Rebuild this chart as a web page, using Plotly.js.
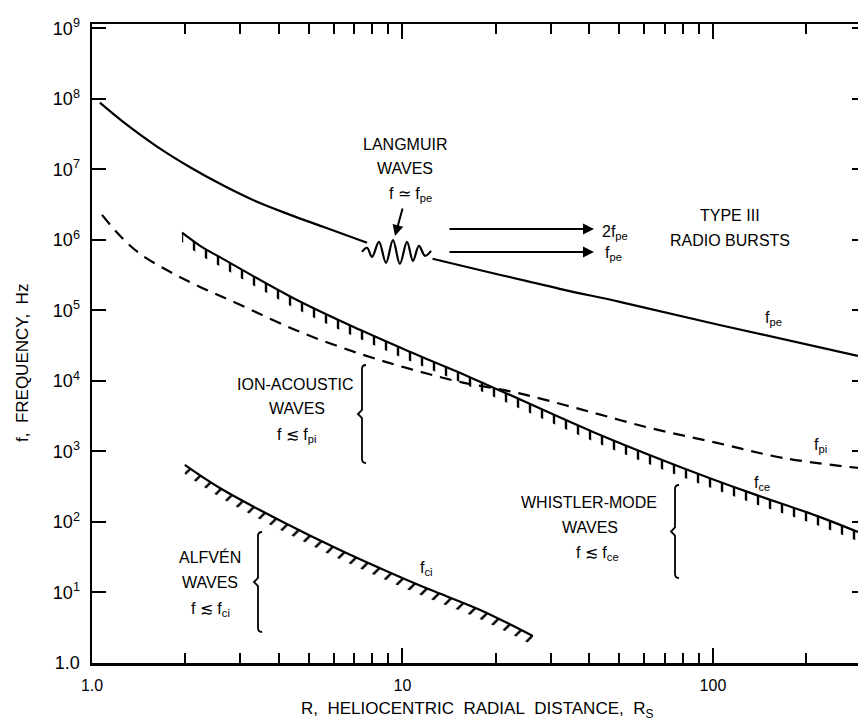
<!DOCTYPE html>
<html>
<head>
<meta charset="utf-8">
<script src="https://cdn.plot.ly/plotly-3.0.1.min.js"></script>
<style>
  html, body { margin: 0; padding: 0; background: #fff; overflow: hidden; }
  #chart { width: 866px; height: 728px; }
</style>
</head>
<body>
<div id="chart"></div>
<script>
// ---------------- data ----------------
// electron plasma frequency f_pe (solid), inner part up to the Langmuir wave sketch
const fpeInnerR = [1.06, 1.26, 1.62, 2.07, 2.64, 3.40, 4.35, 5.55, 7.69];
const fpeInnerF = [8.8e7, 4.7e7, 2.1e7, 1.07e7, 5.93e6, 3.46e6, 2.26e6, 1.53e6, 9.1e5];
// f_pe beyond the Langmuir wave sketch
const fpeOuterR = [12.5, 32.1, 50.1, 105, 293];
const fpeOuterF = [5.4e5, 2.02e5, 1.32e5, 6.2e4, 2.26e4];

// Langmuir wave packet sketch (points read along the wiggle)
const waveR = [7.41, 7.69, 7.98, 8.40, 8.85, 9.32, 9.81, 10.34, 10.81, 11.30, 11.82, 12.36];
const waveF = [6.76e5, 7.71e5, 5.74e5, 9.38e5, 4.72e5, 9.91e5, 4.57e5, 9.38e5, 5.04e5, 8.22e5, 5.93e5, 6.98e5];

// ion plasma frequency f_pi (dashed)
const fpiR = [1.077, 1.231, 1.428, 1.783, 2.228, 2.998, 4.677, 7.30, 10.57, 15.3, 23.4, 38.1, 62.7, 103, 168, 293];
const fpiF = [2.26e6, 1.14e6, 6.33e5, 3.52e5, 2.15e5, 1.20e5, 4.95e4, 2.42e4, 1.48e4, 9.68e3, 6.76e3, 3.88e3, 2.15e3, 1.32e3, 809, 583];

// electron cyclotron frequency f_ce (hatched)
const fceR = [1.95, 2.23, 2.64, 4.44, 7.30, 10.57, 15.3, 21.1, 41.1, 80.0, 132, 216, 293];
const fceF = [1.26e6, 8.22e5, 5.37e5, 1.50e5, 5.29e4, 2.58e4, 1.30e4, 6.98e3, 1.89e3, 583, 258, 122, 72.1];

// ion cyclotron frequency f_ci (hatched)
const fciR = [1.99, 2.58, 4.12, 6.29, 9.82, 12.3, 17.8, 26.3];
const fciF = [644, 303, 100, 40.1, 16.6, 10.9, 5.65, 2.41];

// axis ticks
const xTickVals = [1, 10, 100];
const xTickText = ['1.0', '10', '100'];
const xMinorVals = [2, 3, 4, 5, 6, 7, 8, 9, 20, 30, 40, 50, 60, 70, 80, 90, 200, 300];
const yTickVals = [1, 1e1, 1e2, 1e3, 1e4, 1e5, 1e6, 1e7, 1e8, 1e9];
const yTickText = ['1.0', '10<sup>1</sup>', '10<sup>2</sup>', '10<sup>3</sup>', '10<sup>4</sup>',
                   '10<sup>5</sup>', '10<sup>6</sup>', '10<sup>7</sup>', '10<sup>8</sup>', '10<sup>9</sup>'];

// ---------------- styling ----------------
const FONT = 'Liberation Sans, Arial, sans-serif';
const LW = 2.2;
const HATCH = 0.74; // depth of the hatch band below a boundary (ratio in frequency)

function hatched(R, F, shape, size) {
  return [
    {x: R, y: F, mode: 'lines', type: 'scatter', line: {color: 'black', width: LW, shape: 'spline'}, hoverinfo: 'skip'},
    {x: R, y: F.map(v => v * HATCH), mode: 'lines', type: 'scatter',
     line: {color: 'rgba(0,0,0,0)', width: 0, shape: 'spline'},
     fill: 'tonexty', fillcolor: 'rgba(0,0,0,0)',
     fillpattern: {shape: shape, size: size, solidity: 0.2, fgcolor: 'black', bgcolor: 'rgba(0,0,0,0)'},
     hoverinfo: 'skip'}
  ];
}

const traces = [
  {x: fpeInnerR, y: fpeInnerF, mode: 'lines', type: 'scatter', line: {color: 'black', width: LW, shape: 'spline'}},
  {x: fpeOuterR, y: fpeOuterF, mode: 'lines', type: 'scatter', line: {color: 'black', width: LW, shape: 'spline'}},
  {x: waveR, y: waveF, mode: 'lines', type: 'scatter', line: {color: 'black', width: LW, shape: 'spline', smoothing: 1.0}},
  {x: fpiR, y: fpiF, mode: 'lines', type: 'scatter', line: {color: 'black', width: LW, dash: '12px,8px', shape: 'spline'}},
  ...hatched(fceR, fceF, '|', 12),
  ...hatched(fciR, fciF, '/', 12)
];

// plot area geometry for placing free text in paper coordinates
const PL = 92, PR = 866, PT = 24, PB = 663;
const px = v => (v - PL) / (PR - PL);
const py = v => (PB - v) / (PB - PT);

function label(text, cx, cy, opts) {
  return Object.assign({
    text: text, x: px(cx), y: py(cy), xref: 'paper', yref: 'paper',
    showarrow: false, xanchor: 'center', yanchor: 'middle',
    font: {family: FONT, size: 16, color: 'black'}
  }, opts || {});
}
function arrow(tailX, tailY, headX, headY) {
  return {
    text: '', x: px(headX), y: py(headY), xref: 'paper', yref: 'paper',
    ax: tailX - headX, ay: tailY - headY, showarrow: true,
    arrowhead: 2, arrowsize: 1.1, arrowwidth: 2, arrowcolor: 'black'
  };
}
function brace(cx, top, bot) {
  const x = px(cx), y1 = py(top), y0 = py(bot), m = (y0 + y1) / 2;
  const dx = 4 / (PR - PL), dy = 4 / (PB - PT);
  return {
    type: 'path', xref: 'paper', yref: 'paper',
    path: `M ${x + dx},${y1} Q ${x},${y1} ${x},${y1 - dy} L ${x},${m + dy} L ${x - dx},${m} L ${x},${m - dy} L ${x},${y0 + dy} Q ${x},${y0} ${x + dx},${y0}`,
    line: {color: 'black', width: 1.8}
  };
}

const annotations = [
  label('LANGMUIR', 405, 145),
  label('WAVES', 405, 168),
  label('f ≃ f<sub>pe</sub>', 410, 195),
  arrow(403, 207, 395, 236),
  arrow(448, 229, 594, 229),
  arrow(448, 252, 594, 252),
  label('2f<sub>pe</sub>', 600, 232, {xanchor: 'left'}),
  label('f<sub>pe</sub>', 603, 254, {xanchor: 'left'}),
  label('TYPE III', 730, 215),
  label('RADIO BURSTS', 730, 240),
  label('f<sub>pe</sub>', 773, 318),
  label('f<sub>pi</sub>', 820, 445),
  label('f<sub>ce</sub>', 762, 484),
  label('f<sub>ci</sub>', 426, 568),
  label('ION-ACOUSTIC', 295, 385),
  label('WAVES', 297, 408),
  label('f ≲ f<sub>pi</sub>', 297, 435),
  label('ALFVÉN', 210, 557),
  label('WAVES', 210, 582),
  label('f ≲ f<sub>ci</sub>', 210, 609),
  label('WHISTLER-MODE', 589, 502),
  label('WAVES', 590, 527),
  label('f ≲ f<sub>ce</sub>', 597, 553),
  label('R,\u00A0 HELIOCENTRIC\u00A0 RADIAL\u00A0 DISTANCE,\u00A0 R<sub>S</sub>', 477, 710, {font: {family: FONT, size: 17, color: 'black'}}),
  label('f,\u00A0 FREQUENCY,\u00A0 Hz', 22, 363, {textangle: -90, font: {family: FONT, size: 17, color: 'black'}})
];

const shapes = [
  brace(362, 365, 463),
  brace(258, 532, 632),
  brace(675, 485, 578)
];

const axisCommon = {
  type: 'log', showgrid: false, zeroline: false,
  showline: true, linecolor: 'black', linewidth: 2.5, mirror: 'ticks',
  ticks: 'inside', tickcolor: 'black', tickwidth: 2,
  tickmode: 'array'
};

const layout = {
  width: 866, height: 728,
  margin: {l: PL, r: 866 - PR, t: PT, b: 728 - PB},
  paper_bgcolor: 'white', plot_bgcolor: 'white',
  showlegend: false,
  font: {family: FONT, color: 'black'},
  xaxis: Object.assign({}, axisCommon, {
    range: [0, 2.493], ticklen: 15,
    tickvals: xTickVals, ticktext: xTickText,
    tickfont: {family: FONT, size: 16, color: 'black'},
    ticklabelstandoff: 6,
    minor: {tickmode: 'array', tickvals: xMinorVals, ticks: 'inside', ticklen: 10, tickwidth: 2, tickcolor: 'black', showgrid: false}
  }),
  yaxis: Object.assign({}, axisCommon, {
    range: [0, 9.06], ticklen: 14,
    tickvals: yTickVals, ticktext: yTickText,
    tickfont: {family: FONT, size: 18, color: 'black'},
    ticklabelstandoff: 6
  }),
  annotations: annotations,
  shapes: shapes
};

Plotly.newPlot('chart', traces, layout, {staticPlot: true, displayModeBar: false});
</script>
</body>
</html>
